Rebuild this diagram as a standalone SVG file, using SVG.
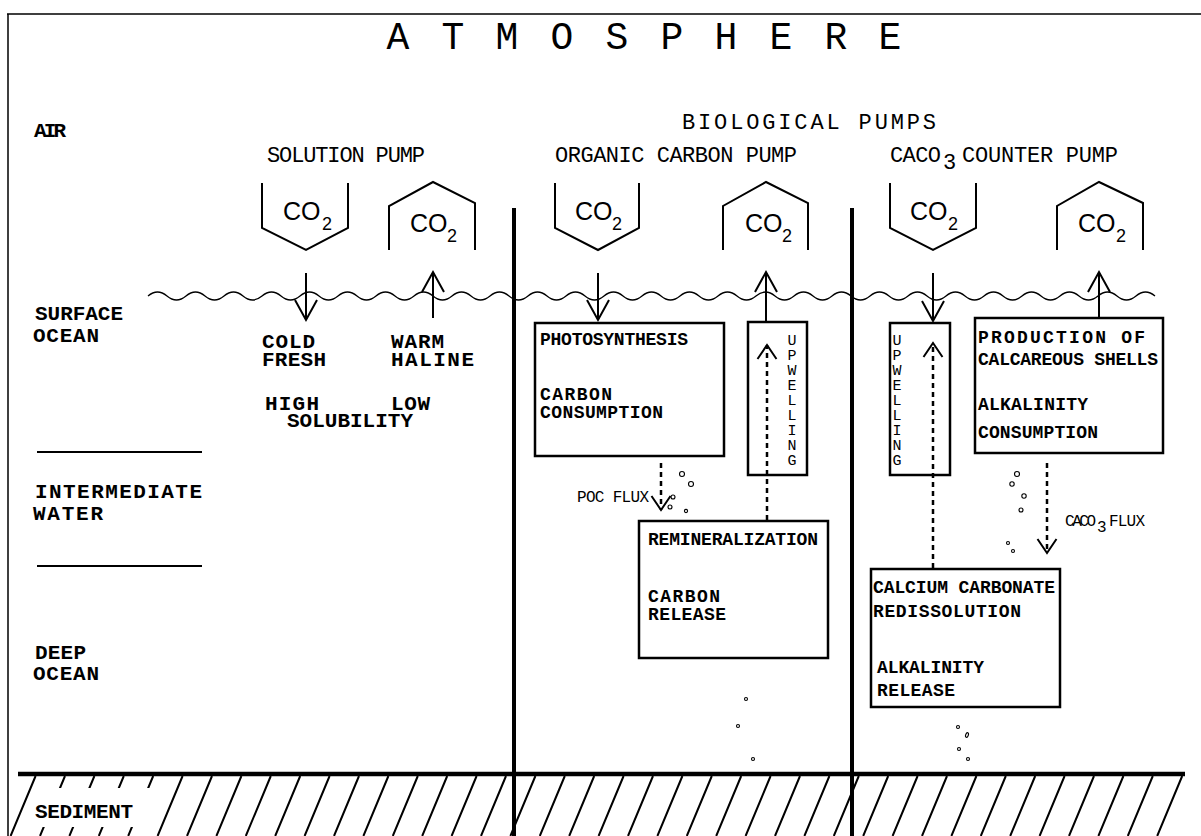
<svg xmlns="http://www.w3.org/2000/svg" width="1201" height="836" viewBox="0 0 1201 836">
<style>
text{font-family:"Liberation Mono","DejaVu Sans Mono",monospace;fill:#000}
.t{font-size:38px;text-anchor:middle}
.h{font-size:22px}
.l{font-size:21px;font-weight:bold}
.b{font-size:18px;font-weight:bold}
.s{font-size:16px}
.v{font-size:15px;text-anchor:middle}
.co{font-family:"Liberation Sans",Arial,sans-serif;font-size:25px}
.sub{font-family:"Liberation Sans",Arial,sans-serif;font-size:18px}
.hex{fill:none;stroke:#000;stroke-width:2}
.box{fill:none;stroke:#000;stroke-width:2.5}
.ln{fill:none;stroke:#000}
.ar{fill:none;stroke:#000;stroke-width:2;marker-end:url(#vh)}
.da{fill:none;stroke:#000;stroke-width:2.5;stroke-dasharray:5 4;marker-end:url(#vs)}
.bub{fill:none;stroke:#000;stroke-width:1.1}
</style>
<defs>
<marker id="vh" markerUnits="userSpaceOnUse" markerWidth="24" markerHeight="26" viewBox="-22 -13 24 26" refX="0" refY="0" orient="auto" overflow="visible"><path d="M-20,-11 L0,0 L-20,11" fill="none" stroke="#000" stroke-width="2"/></marker>
<marker id="vs" markerUnits="userSpaceOnUse" markerWidth="18" markerHeight="22" viewBox="-16 -11 18 22" refX="0" refY="0" orient="auto" overflow="visible"><path d="M-14,-9.5 L0,0 L-14,9.5" fill="none" stroke="#000" stroke-width="2"/></marker>
</defs>

<g id="frame">
<path class="ln" stroke-width="1.5" d="M7,14 H1201 M8,14 V836"/>
<path class="ln" stroke-width="2" d="M37,452 H202 M37,566 H202"/>
<path class="ln" stroke-width="1.3" d="M148,296 q9.5,-8 19,0 t19,0 t19,0 t19,0 t19,0 t19,0 t19,0 t19,0 t19,0 t19,0 t19,0 t19,0 t19,0 t19,0 t19,0 t19,0 t19,0 t19,0 t19,0 t19,0 t19,0 t19,0 t19,0 t19,0 t19,0 t19,0 t19,0 t19,0 t19,0 t19,0 t19,0 t19,0 t19,0 t19,0 t19,0 t19,0 t19,0 t19,0 t19,0 t19,0 t19,0 t19,0 t19,0 t19,0 t19,0 t19,0 t19,0 t19,0 t19,0 t19,0 t19,0 t19,0 t19,0"/>
<path class="ln" stroke-width="2" d="M35.6,776 l-25,60 M65,776 l-25,60 M94.4,776 l-25,60 M123.8,776 l-25,60 M153.2,776 l-25,60 M182.6,776 l-25,60 M212,776 l-25,60 M241.4,776 l-25,60 M270.8,776 l-25,60 M300.2,776 l-25,60 M329.6,776 l-25,60 M359,776 l-25,60 M388.4,776 l-25,60 M417.8,776 l-25,60 M447.2,776 l-25,60 M476.6,776 l-25,60 M506,776 l-25,60 M535.4,776 l-25,60 M564.8,776 l-25,60 M594.2,776 l-25,60 M623.6,776 l-25,60 M653,776 l-25,60 M682.4,776 l-25,60 M711.8,776 l-25,60 M741.2,776 l-25,60 M770.6,776 l-25,60 M800,776 l-25,60 M829.4,776 l-25,60 M858.8,776 l-25,60 M888.2,776 l-25,60 M917.6,776 l-25,60 M947,776 l-25,60 M976.4,776 l-25,60 M1005.8,776 l-25,60 M1035.2,776 l-25,60 M1064.6,776 l-25,60 M1094,776 l-25,60 M1123.4,776 l-25,60 M1152.8,776 l-25,60 M1182.2,776 l-25,60"/>
<rect x="33" y="788" width="117" height="39" fill="#fff"/>
<path class="ln" stroke-width="4.5" d="M18,774 H1185"/>
<path class="ln" stroke-width="4" d="M514,208 V836 M852,208 V836"/>
</g>

<g id="labels">
<text class="t" x="398 453 507 562 617 672 726 781 836 890" y="49">ATMOSPHERE</text>
<text class="l" x="34" y="137" textLength="32">AIR</text>
<text class="l" x="35" y="320" textLength="88">SURFACE</text>
<text class="l" x="33" y="342" textLength="66">OCEAN</text>
<text class="l" x="35" y="498" textLength="167">INTERMEDIATE</text>
<text class="l" x="33" y="520" textLength="70">WATER</text>
<text class="l" x="35" y="659" textLength="51">DEEP</text>
<text class="l" x="33" y="680" textLength="66">OCEAN</text>
<text class="l" x="35" y="818" textLength="98">SEDIMENT</text>
<text class="h" x="682" y="129" font-size="27" textLength="254">BIOLOGICAL PUMPS</text>
<text class="h" x="267" y="162" textLength="158">SOLUTION PUMP</text>
<text class="h" x="555" y="162" textLength="242">ORGANIC CARBON PUMP</text>
<text class="h" x="890" y="162" textLength="51">CACO</text>
<text class="h" x="943" y="169" font-size="13">3</text>
<text class="h" x="962" y="162" textLength="156">COUNTER PUMP</text>
<text class="l" x="262" y="348" textLength="53">COLD</text>
<text class="l" x="262" y="366" textLength="64">FRESH</text>
<text class="l" x="391" y="348" textLength="53">WARM</text>
<text class="l" x="391" y="366" textLength="83">HALINE</text>
<text class="l" x="265" y="410" textLength="54">HIGH</text>
<text class="l" x="391" y="410" textLength="39">LOW</text>
<text class="l" x="287" y="427" textLength="126">SOLUBILITY</text>
<text class="s" x="577" y="502" textLength="72">POC FLUX</text>
<text class="s" x="1065" y="526" textLength="31">CACO</text>
<text class="s" x="1097" y="532" font-size="10">3</text>
<text class="s" x="1109" y="526" textLength="36">FLUX</text>
</g>

<g id="co2-solution-in">
<polyline class="hex" points="262,183 262,228 306,250 348,228 348,183"/>
<text class="co" x="283" y="220">CO</text><text class="sub" x="322" y="230">2</text>
</g>
<g id="co2-solution-out">
<polyline class="hex" points="389,250 389,206 433,182 475,203 475,250"/>
<text class="co" x="410" y="232">CO</text><text class="sub" x="447" y="242">2</text>
</g>
<g id="co2-organic-in">
<polyline class="hex" points="555,183 555,228 598,250 639,228 639,183"/>
<text class="co" x="575" y="220">CO</text><text class="sub" x="612" y="230">2</text>
</g>
<g id="co2-organic-out">
<polyline class="hex" points="723,250 723,206 766,182 808,203 808,250"/>
<text class="co" x="745" y="232">CO</text><text class="sub" x="782" y="242">2</text>
</g>
<g id="co2-caco3-in">
<polyline class="hex" points="890,183 890,228 933,250 976,228 976,183"/>
<text class="co" x="910" y="220">CO</text><text class="sub" x="948" y="230">2</text>
</g>
<g id="co2-caco3-out">
<polyline class="hex" points="1057,250 1057,206 1099,182 1143,203 1143,250"/>
<text class="co" x="1078" y="232">CO</text><text class="sub" x="1116" y="242">2</text>
</g>

<g id="photosynthesis">
<rect class="box" x="535" y="323" width="189" height="133"/>
<text class="b" x="540" y="345" textLength="148">PHOTOSYNTHESIS</text>
<text class="b" x="540" y="400" textLength="72">CARBON</text>
<text class="b" x="540" y="418" textLength="123">CONSUMPTION</text>
</g>
<g id="upwelling-organic">
<rect class="box" x="748" y="322" width="59" height="153"/>
<text class="v" x="792" y="345">U</text><text class="v" x="792" y="360">P</text><text class="v" x="792" y="375">W</text><text class="v" x="792" y="390">E</text><text class="v" x="792" y="405">L</text><text class="v" x="792" y="420">L</text><text class="v" x="792" y="435">I</text><text class="v" x="792" y="450">N</text><text class="v" x="792" y="465">G</text>
</g>
<g id="remineralization">
<rect class="box" x="639" y="521" width="189" height="137"/>
<text class="b" x="648" y="545" textLength="170">REMINERALIZATION</text>
<text class="b" x="648" y="602" textLength="72">CARBON</text>
<text class="b" x="648" y="620" textLength="78">RELEASE</text>
</g>
<g id="upwelling-caco3">
<rect class="box" x="890" y="323" width="60" height="152"/>
<text class="v" x="897" y="345">U</text><text class="v" x="897" y="360">P</text><text class="v" x="897" y="375">W</text><text class="v" x="897" y="390">E</text><text class="v" x="897" y="405">L</text><text class="v" x="897" y="420">L</text><text class="v" x="897" y="435">I</text><text class="v" x="897" y="450">N</text><text class="v" x="897" y="465">G</text>
</g>
<g id="calcareous-shells">
<rect class="box" x="975" y="318" width="188" height="135"/>
<text class="b" x="978" y="343" textLength="167">PRODUCTION OF</text>
<text class="b" x="978" y="365" textLength="180">CALCAREOUS SHELLS</text>
<text class="b" x="978" y="410" textLength="110">ALKALINITY</text>
<text class="b" x="978" y="438" textLength="120">CONSUMPTION</text>
</g>
<g id="redissolution">
<rect class="box" x="871" y="569" width="189" height="138"/>
<text class="b" x="873" y="593" textLength="182">CALCIUM CARBONATE</text>
<text class="b" x="873" y="617" textLength="148">REDISSOLUTION</text>
<text class="b" x="877" y="673" textLength="107">ALKALINITY</text>
<text class="b" x="877" y="696" textLength="78">RELEASE</text>
</g>

<g id="particles">
<circle class="bub" cx="682" cy="474" r="2.5"/><circle class="bub" cx="691" cy="484" r="2.5"/><circle class="bub" cx="673" cy="497" r="2"/><circle class="bub" cx="670" cy="507" r="2"/><circle class="bub" cx="686" cy="511" r="1.6"/>
<circle class="bub" cx="746" cy="699" r="1.5"/><circle class="bub" cx="738" cy="726" r="1.5"/><circle class="bub" cx="753" cy="759" r="1.5"/>
<circle class="bub" cx="1017" cy="474" r="2.5"/><circle class="bub" cx="1012" cy="484" r="2.2"/><circle class="bub" cx="1024" cy="496" r="2.2"/><circle class="bub" cx="1021" cy="510" r="2"/><circle class="bub" cx="1008" cy="543" r="1.5"/><circle class="bub" cx="1013" cy="551" r="1.5"/>
<circle class="bub" cx="958" cy="727" r="1.5"/><ellipse class="bub" cx="967" cy="735" rx="1.3" ry="2.4" transform="rotate(20 967 735)"/><circle class="bub" cx="959" cy="749" r="1.5"/><circle class="bub" cx="968" cy="759" r="1.5"/>
</g>

<g id="connectors">
<path class="ar" d="M306,273 V320"/>
<path class="ar" d="M433,318 V272"/>
<path class="ar" d="M598,273 V320"/>
<path class="ar" d="M766,321 V272"/>
<path class="ar" d="M933,273 V321"/>
<path class="ar" stroke-width="3" d="M1099,318 V272"/>
<path class="da" d="M661,463 V510"/>
<path class="da" stroke-width="2" stroke-dasharray="5 3" d="M767,520 V345"/>
<path class="da" stroke-width="1.5" stroke-dasharray="4 4" d="M933,568 V343"/>
<path class="da" d="M1047,463 V553"/>
</g>
</svg>
